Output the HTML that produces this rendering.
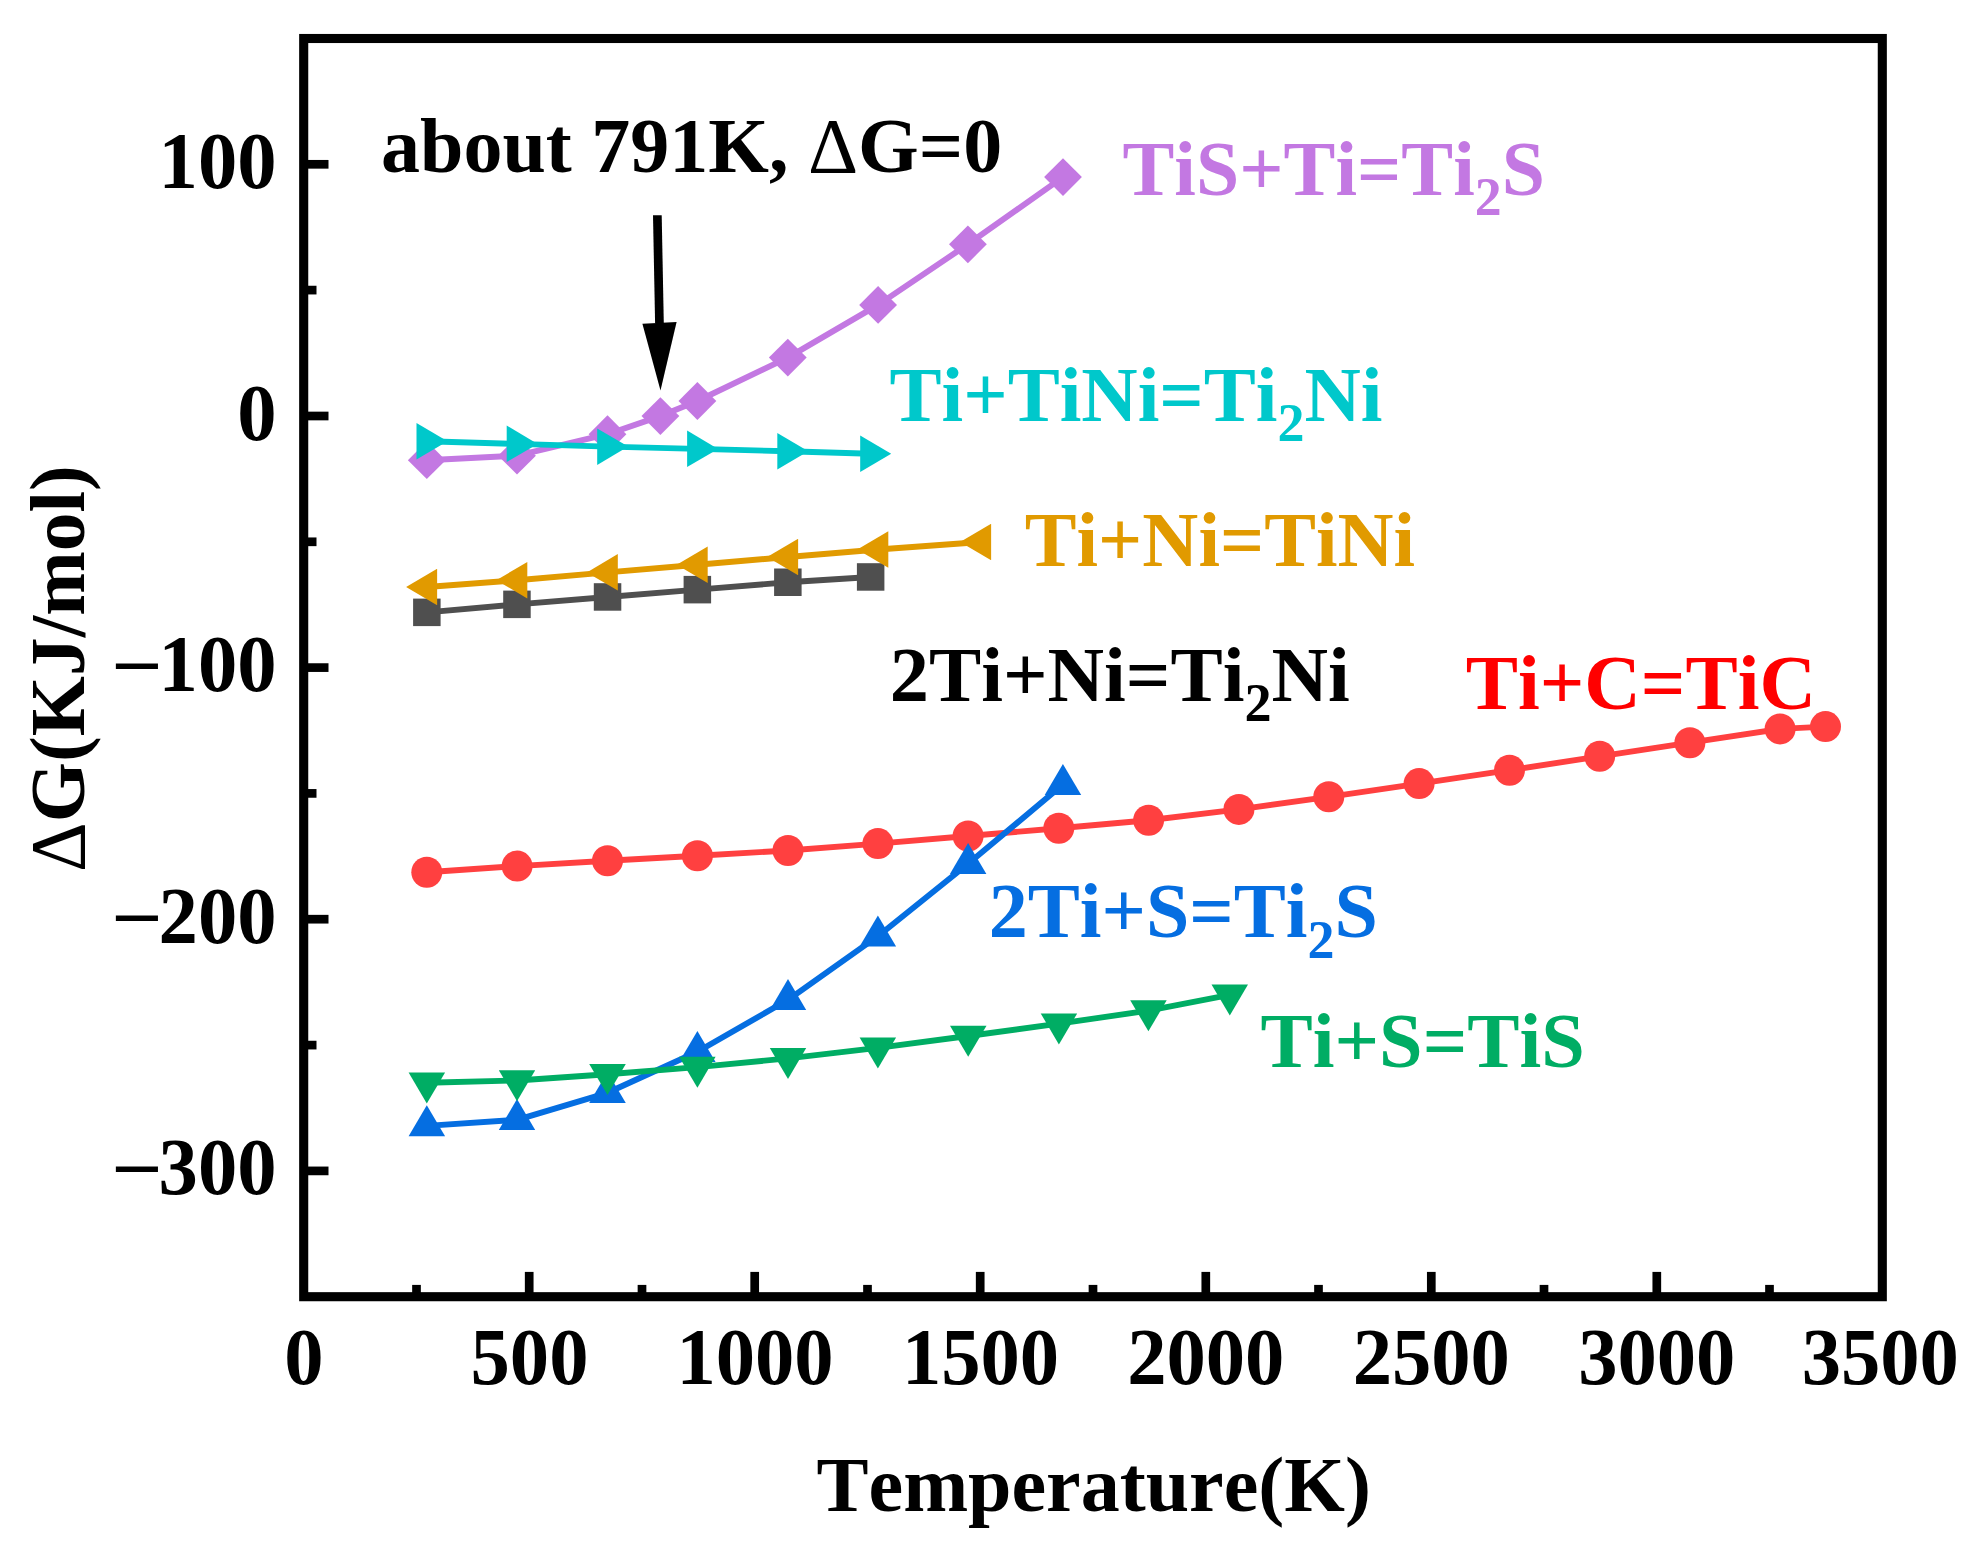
<!DOCTYPE html>
<html lang="en">
<head>
<meta charset="utf-8">
<title>Gibbs free energy vs temperature</title>
<style>
html,body{margin:0;padding:0;background:#fff;}
body{width:1984px;height:1553px;overflow:hidden;}
svg{display:block;}
text{font-family:"Liberation Serif","Times New Roman",serif;font-weight:bold;font-size:78px;font-kerning:none;}
.d{font-weight:normal;}
[id^="ym"]{font-weight:normal;}
.s{font-size:54px;}
</style>
</head>
<body>
<svg width="1984" height="1553" viewBox="0 0 1984 1553">
<rect width="1984" height="1553" fill="#fff"/>
<rect x="303.7" y="38.5" width="1578.6" height="1258.2" fill="none" stroke="#000" stroke-width="9.1"/>
<line x1="416.5" y1="1296.7" x2="416.5" y2="1284.9" stroke="#000" stroke-width="8.7"/>
<line x1="529.2" y1="1296.7" x2="529.2" y2="1271.9" stroke="#000" stroke-width="8.7"/>
<line x1="642.0" y1="1296.7" x2="642.0" y2="1284.9" stroke="#000" stroke-width="8.7"/>
<line x1="754.7" y1="1296.7" x2="754.7" y2="1271.9" stroke="#000" stroke-width="8.7"/>
<line x1="867.5" y1="1296.7" x2="867.5" y2="1284.9" stroke="#000" stroke-width="8.7"/>
<line x1="980.2" y1="1296.7" x2="980.2" y2="1271.9" stroke="#000" stroke-width="8.7"/>
<line x1="1093.0" y1="1296.7" x2="1093.0" y2="1284.9" stroke="#000" stroke-width="8.7"/>
<line x1="1205.8" y1="1296.7" x2="1205.8" y2="1271.9" stroke="#000" stroke-width="8.7"/>
<line x1="1318.5" y1="1296.7" x2="1318.5" y2="1284.9" stroke="#000" stroke-width="8.7"/>
<line x1="1431.3" y1="1296.7" x2="1431.3" y2="1271.9" stroke="#000" stroke-width="8.7"/>
<line x1="1544.0" y1="1296.7" x2="1544.0" y2="1284.9" stroke="#000" stroke-width="8.7"/>
<line x1="1656.8" y1="1296.7" x2="1656.8" y2="1271.9" stroke="#000" stroke-width="8.7"/>
<line x1="1769.5" y1="1296.7" x2="1769.5" y2="1284.9" stroke="#000" stroke-width="8.7"/>
<line x1="303.7" y1="1170.9" x2="328.5" y2="1170.9" stroke="#000" stroke-width="8.7"/>
<line x1="303.7" y1="1045.1" x2="316.5" y2="1045.1" stroke="#000" stroke-width="8.7"/>
<line x1="303.7" y1="919.2" x2="328.5" y2="919.2" stroke="#000" stroke-width="8.7"/>
<line x1="303.7" y1="793.4" x2="316.5" y2="793.4" stroke="#000" stroke-width="8.7"/>
<line x1="303.7" y1="667.6" x2="328.5" y2="667.6" stroke="#000" stroke-width="8.7"/>
<line x1="303.7" y1="541.8" x2="316.5" y2="541.8" stroke="#000" stroke-width="8.7"/>
<line x1="303.7" y1="416.0" x2="328.5" y2="416.0" stroke="#000" stroke-width="8.7"/>
<line x1="303.7" y1="290.1" x2="316.5" y2="290.1" stroke="#000" stroke-width="8.7"/>
<line x1="303.7" y1="164.3" x2="328.5" y2="164.3" stroke="#000" stroke-width="8.7"/>
<g>
<polyline fill="none" stroke="#4f4f4f" stroke-width="5.9" stroke-linejoin="round" points="426.8,612.4 517.0,604.4 607.5,597.0 697.4,589.6 787.9,582.3 870.6,577.0"/>
<rect x="413.1" y="598.6" width="27.5" height="27.5" fill="#4f4f4f"/>
<rect x="503.2" y="590.6" width="27.5" height="27.5" fill="#4f4f4f"/>
<rect x="593.8" y="583.2" width="27.5" height="27.5" fill="#4f4f4f"/>
<rect x="683.6" y="575.9" width="27.5" height="27.5" fill="#4f4f4f"/>
<rect x="774.1" y="568.5" width="27.5" height="27.5" fill="#4f4f4f"/>
<rect x="856.9" y="563.2" width="27.5" height="27.5" fill="#4f4f4f"/>
</g>
<g>
<polyline fill="none" stroke="#ff4040" stroke-width="5.9" stroke-linejoin="round" points="426.8,872.2 517.1,866.1 607.5,860.8 697.4,855.8 788.0,850.5 877.9,843.6 968.1,836.0 1058.8,828.2 1148.6,820.2 1238.9,809.4 1328.8,796.8 1419.1,783.6 1509.5,770.2 1599.7,756.3 1689.9,742.7 1780.1,728.9 1825.5,726.6"/>
<circle cx="426.8" cy="872.2" r="15.5" fill="#ff4040"/>
<circle cx="517.1" cy="866.1" r="15.5" fill="#ff4040"/>
<circle cx="607.5" cy="860.8" r="15.5" fill="#ff4040"/>
<circle cx="697.4" cy="855.8" r="15.5" fill="#ff4040"/>
<circle cx="788.0" cy="850.5" r="15.5" fill="#ff4040"/>
<circle cx="877.9" cy="843.6" r="15.5" fill="#ff4040"/>
<circle cx="968.1" cy="836.0" r="15.5" fill="#ff4040"/>
<circle cx="1058.8" cy="828.2" r="15.5" fill="#ff4040"/>
<circle cx="1148.6" cy="820.2" r="15.5" fill="#ff4040"/>
<circle cx="1238.9" cy="809.4" r="15.5" fill="#ff4040"/>
<circle cx="1328.8" cy="796.8" r="15.5" fill="#ff4040"/>
<circle cx="1419.1" cy="783.6" r="15.5" fill="#ff4040"/>
<circle cx="1509.5" cy="770.2" r="15.5" fill="#ff4040"/>
<circle cx="1599.7" cy="756.3" r="15.5" fill="#ff4040"/>
<circle cx="1689.9" cy="742.7" r="15.5" fill="#ff4040"/>
<circle cx="1780.1" cy="728.9" r="15.5" fill="#ff4040"/>
<circle cx="1825.5" cy="726.6" r="15.5" fill="#ff4040"/>
</g>
<g>
<polyline fill="none" stroke="#056ee1" stroke-width="5.9" stroke-linejoin="round" points="426.8,1125.9 517.0,1119.8 607.5,1092.8 697.4,1051.8 788.0,999.8 877.9,936.2 968.1,863.8 1062.9,784.6"/>
<polygon points="426.8,1105.2 408.6,1136.2 445.1,1136.2" fill="#056ee1"/>
<polygon points="517.0,1099.1 498.8,1130.1 535.2,1130.1" fill="#056ee1"/>
<polygon points="607.5,1072.1 589.2,1103.1 625.8,1103.1" fill="#056ee1"/>
<polygon points="697.4,1031.1 679.1,1062.1 715.6,1062.1" fill="#056ee1"/>
<polygon points="788.0,979.1 769.8,1010.1 806.2,1010.1" fill="#056ee1"/>
<polygon points="877.9,915.5 859.6,946.5 896.1,946.5" fill="#056ee1"/>
<polygon points="968.1,843.1 949.9,874.1 986.4,874.1" fill="#056ee1"/>
<polygon points="1062.9,763.9 1044.7,794.9 1081.2,794.9" fill="#056ee1"/>
</g>
<g>
<polyline fill="none" stroke="#00ad64" stroke-width="5.9" stroke-linejoin="round" points="426.8,1082.7 517.0,1080.5 607.5,1074.3 697.4,1067.1 788.0,1058.4 877.9,1047.9 968.2,1036.0 1058.9,1023.7 1148.4,1010.6 1229.8,994.9"/>
<polygon points="426.8,1103.4 408.6,1072.4 445.1,1072.4" fill="#00ad64"/>
<polygon points="517.0,1101.2 498.8,1070.2 535.2,1070.2" fill="#00ad64"/>
<polygon points="607.5,1095.0 589.2,1064.0 625.8,1064.0" fill="#00ad64"/>
<polygon points="697.4,1087.8 679.1,1056.8 715.6,1056.8" fill="#00ad64"/>
<polygon points="788.0,1079.1 769.8,1048.1 806.2,1048.1" fill="#00ad64"/>
<polygon points="877.9,1068.6 859.6,1037.6 896.1,1037.6" fill="#00ad64"/>
<polygon points="968.2,1056.7 950.0,1025.7 986.5,1025.7" fill="#00ad64"/>
<polygon points="1058.9,1044.4 1040.7,1013.4 1077.2,1013.4" fill="#00ad64"/>
<polygon points="1148.4,1031.3 1130.2,1000.3 1166.7,1000.3" fill="#00ad64"/>
<polygon points="1229.8,1015.6 1211.5,984.6 1248.0,984.6" fill="#00ad64"/>
</g>
<g>
<polyline fill="none" stroke="#c378e2" stroke-width="5.9" stroke-linejoin="round" points="426.8,460.2 517.0,455.7 607.5,434.2 660.4,416.1 697.4,401.0 787.8,357.6 878.1,304.9 967.9,244.3 1063.0,177.1"/>
<polygon points="426.8,441.3 445.7,460.2 426.8,479.1 407.9,460.2" fill="#c378e2"/>
<polygon points="517.0,436.8 535.9,455.7 517.0,474.6 498.1,455.7" fill="#c378e2"/>
<polygon points="607.5,415.3 626.4,434.2 607.5,453.1 588.6,434.2" fill="#c378e2"/>
<polygon points="660.4,397.2 679.3,416.1 660.4,435.0 641.5,416.1" fill="#c378e2"/>
<polygon points="697.4,382.1 716.3,401.0 697.4,419.9 678.5,401.0" fill="#c378e2"/>
<polygon points="787.8,338.7 806.7,357.6 787.8,376.5 768.9,357.6" fill="#c378e2"/>
<polygon points="878.1,286.0 897.0,304.9 878.1,323.8 859.2,304.9" fill="#c378e2"/>
<polygon points="967.9,225.4 986.8,244.3 967.9,263.2 949.0,244.3" fill="#c378e2"/>
<polygon points="1063.0,158.2 1081.9,177.1 1063.0,196.0 1044.1,177.1" fill="#c378e2"/>
</g>
<g>
<polyline fill="none" stroke="#e19a00" stroke-width="5.9" stroke-linejoin="round" points="426.8,587.0 517.0,580.2 607.5,572.4 697.4,564.7 787.8,557.0 878.0,549.5 980.8,542.0"/>
<polygon points="406.1,587.0 437.1,568.8 437.1,605.2" fill="#e19a00"/>
<polygon points="496.3,580.2 527.3,562.0 527.3,598.5" fill="#e19a00"/>
<polygon points="586.8,572.4 617.8,554.1 617.8,590.6" fill="#e19a00"/>
<polygon points="676.7,564.7 707.7,546.5 707.7,583.0" fill="#e19a00"/>
<polygon points="767.1,557.0 798.1,538.8 798.1,575.2" fill="#e19a00"/>
<polygon points="857.3,549.5 888.3,531.2 888.3,567.8" fill="#e19a00"/>
<polygon points="960.1,542.0 991.1,523.8 991.1,560.2" fill="#e19a00"/>
</g>
<g>
<polyline fill="none" stroke="#00c8cb" stroke-width="5.9" stroke-linejoin="round" points="426.8,441.2 517.0,443.9 607.5,446.6 697.4,448.9 787.6,451.3 870.5,453.8"/>
<polygon points="447.5,441.2 416.5,422.9 416.5,459.4" fill="#00c8cb"/>
<polygon points="537.7,443.9 506.7,425.6 506.7,462.1" fill="#00c8cb"/>
<polygon points="628.2,446.6 597.2,428.4 597.2,464.9" fill="#00c8cb"/>
<polygon points="718.1,448.9 687.1,430.6 687.1,467.1" fill="#00c8cb"/>
<polygon points="808.3,451.3 777.3,433.1 777.3,469.6" fill="#00c8cb"/>
<polygon points="891.2,453.8 860.2,435.6 860.2,472.1" fill="#00c8cb"/>
</g>
<polygon points="653.0,215.2 661.7,215.2 663.8,323.5 655.1,323.5" fill="#000"/>
<polygon points="642.4,323.7 676.6,322.0 660.5,390.4" fill="#000"/>
<text id="xt0" transform="translate(303.80,1384.10) scale(1.008,1.02)" text-anchor="middle">0</text>
<text id="xt500" transform="translate(529.50,1384.10) scale(1.008,1.02)" text-anchor="middle">500</text>
<text id="xt1000" transform="translate(755.00,1384.10) scale(1.008,1.02)" text-anchor="middle">1000</text>
<text id="xt1500" transform="translate(980.50,1384.10) scale(1.008,1.02)" text-anchor="middle">1500</text>
<text id="xt2000" transform="translate(1205.80,1384.10) scale(1.008,1.02)" text-anchor="middle">2000</text>
<text id="xt2500" transform="translate(1431.30,1384.10) scale(1.008,1.02)" text-anchor="middle">2500</text>
<text id="xt3000" transform="translate(1656.80,1384.10) scale(1.008,1.02)" text-anchor="middle">3000</text>
<text id="xt3500" transform="translate(1880.30,1384.10) scale(1.008,1.02)" text-anchor="middle">3500</text>
<text id="yt100" transform="translate(276.50,187.50) scale(1.008,1.02)" text-anchor="end">100</text>
<text id="yt0" transform="translate(276.50,439.50) scale(1.008,1.02)" text-anchor="end">0</text>
<text id="yt-100" transform="translate(276.50,691.00) scale(1.008,1.02)" text-anchor="end">100</text>
<text id="ym-100" transform="translate(111.40,703.50) scale(1.16,1.45)">−</text>
<text id="yt-200" transform="translate(276.50,942.50) scale(1.008,1.02)" text-anchor="end">200</text>
<text id="ym-200" transform="translate(111.40,955.70) scale(1.16,1.45)">−</text>
<text id="yt-300" transform="translate(276.50,1194.00) scale(1.008,1.02)" text-anchor="end">300</text>
<text id="ym-300" transform="translate(111.40,1206.60) scale(1.16,1.45)">−</text>
<text id="xtitle" transform="translate(816.50,1510.50)">Temperature(K)</text>
<text id="ytitle" transform="translate(84.40,872.00) rotate(-90) scale(0.993,1)"><tspan class="d">Δ</tspan>G(KJ/mol)</text>
<text id="ann" transform="translate(381.00,172.40)">about 791K, <tspan class="d">Δ</tspan>G=0</text>
<text id="l_purple" transform="translate(1122.50,194.80) scale(0.997,1)" fill="#c378e2">TiS+Ti=Ti<tspan class="s" dy="20.5">2</tspan><tspan dy="-20.5">S</tspan></text>
<text id="l_cyan" transform="translate(889.50,420.90)" fill="#00c8cb">Ti+TiNi=Ti<tspan class="s" dy="20.5">2</tspan><tspan dy="-20.5">Ni</tspan></text>
<text id="l_orange" transform="translate(1024.80,565.70) scale(0.995,1)" fill="#e19a00">Ti+Ni=TiNi</text>
<text id="l_black" transform="translate(889.80,700.90) scale(1.004,1)" fill="#000">2Ti+Ni=Ti<tspan class="s" dy="20.5">2</tspan><tspan dy="-20.5">Ni</tspan></text>
<text id="l_red" transform="translate(1465.70,708.70) scale(1.004,1)" fill="#ff0000">Ti+C=TiC</text>
<text id="l_blue" transform="translate(988.80,937.40)" fill="#056ee1">2Ti+S=Ti<tspan class="s" dy="20.5">2</tspan><tspan dy="-20.5">S</tspan></text>
<text id="l_green" transform="translate(1260.50,1067.10) scale(1.004,1)" fill="#00ad64">Ti+S=TiS</text>
</svg>
</body>
</html>
